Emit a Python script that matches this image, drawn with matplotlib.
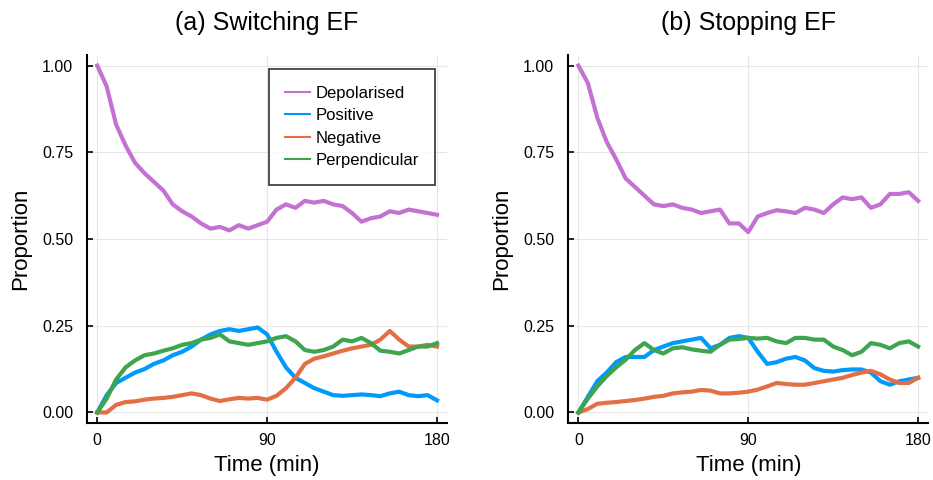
import numpy as np
import matplotlib
matplotlib.use("Agg")
import matplotlib.pyplot as plt

plt.rcParams['font.family'] = ['Liberation Sans', 'DejaVu Sans']

time = list(range(0, 181, 5))

# (a) Switching EF
depol_a = [1.00, 0.94, 0.83, 0.77, 0.72, 0.69, 0.665, 0.64, 0.60, 0.58, 0.565, 0.545, 0.53,
           0.535, 0.525, 0.54, 0.53, 0.54, 0.55, 0.585, 0.60, 0.59, 0.61, 0.605, 0.61, 0.60,
           0.595, 0.575, 0.55, 0.56, 0.565, 0.58, 0.575, 0.585, 0.58, 0.575, 0.57]
pos_a = [0.0, 0.05, 0.085, 0.10, 0.115, 0.125, 0.14, 0.15, 0.165, 0.175, 0.19, 0.21, 0.225,
         0.235, 0.24, 0.235, 0.24, 0.245, 0.225, 0.175, 0.13, 0.10, 0.085, 0.07, 0.06, 0.05,
         0.048, 0.05, 0.052, 0.05, 0.047, 0.055, 0.06, 0.05, 0.047, 0.05, 0.035]
neg_a = [0.0, 0.0, 0.022, 0.03, 0.032, 0.037, 0.04, 0.042, 0.045, 0.05, 0.055, 0.05, 0.04,
         0.033, 0.038, 0.042, 0.04, 0.042, 0.037, 0.048, 0.07, 0.10, 0.14, 0.155, 0.162, 0.17,
         0.178, 0.185, 0.19, 0.195, 0.21, 0.235, 0.21, 0.19, 0.19, 0.195, 0.19]
perp_a = [0.0, 0.04, 0.095, 0.13, 0.15, 0.165, 0.17, 0.178, 0.185, 0.195, 0.20, 0.21, 0.215,
          0.225, 0.205, 0.20, 0.195, 0.20, 0.205, 0.215, 0.22, 0.205, 0.18, 0.175, 0.18, 0.19,
          0.21, 0.205, 0.215, 0.20, 0.178, 0.175, 0.17, 0.18, 0.19, 0.19, 0.20]

# (b) Stopping EF
depol_b = [1.00, 0.95, 0.85, 0.78, 0.73, 0.675, 0.65, 0.625, 0.60, 0.595, 0.60, 0.59, 0.585,
           0.575, 0.58, 0.585, 0.545, 0.545, 0.52, 0.565, 0.575, 0.583, 0.58, 0.575, 0.59, 0.585,
           0.575, 0.60, 0.62, 0.615, 0.62, 0.59, 0.60, 0.63, 0.63, 0.635, 0.61]
pos_b = [0.0, 0.045, 0.09, 0.115, 0.145, 0.16, 0.16, 0.16, 0.18, 0.19, 0.20, 0.205, 0.21,
         0.215, 0.185, 0.195, 0.215, 0.22, 0.215, 0.175, 0.14, 0.145, 0.155, 0.16, 0.15, 0.128,
         0.12, 0.118, 0.122, 0.124, 0.124, 0.115, 0.09, 0.08, 0.09, 0.095, 0.10]
neg_b = [0.0, 0.01, 0.025, 0.028, 0.03, 0.033, 0.036, 0.04, 0.045, 0.048, 0.055, 0.058, 0.06,
         0.065, 0.063, 0.055, 0.055, 0.057, 0.06, 0.066, 0.075, 0.085, 0.082, 0.08, 0.08, 0.085,
         0.09, 0.095, 0.10, 0.108, 0.115, 0.12, 0.11, 0.095, 0.085, 0.085, 0.10]
perp_b = [0.0, 0.04, 0.075, 0.105, 0.13, 0.152, 0.18, 0.20, 0.18, 0.17, 0.185, 0.188, 0.182,
          0.178, 0.175, 0.195, 0.21, 0.212, 0.215, 0.213, 0.215, 0.205, 0.20, 0.215, 0.215, 0.21,
          0.21, 0.19, 0.18, 0.165, 0.175, 0.20, 0.195, 0.185, 0.20, 0.205, 0.19]

labels = ["Depolarised", "Positive", "Negative", "Perpendicular"]
colors = ["#C371D2", "#009AFA", "#E36F47", "#3EA44E"]
titles = ["(a) Switching EF", "(b) Stopping EF"]
panels = [[depol_a, pos_a, neg_a, perp_a], [depol_b, pos_b, neg_b, perp_b]]

fig = plt.figure(figsize=(9.33, 4.8), dpi=100)
axes = [fig.add_axes([0.0933, 0.119, 0.386, 0.766]),
        fig.add_axes([0.609, 0.119, 0.386, 0.766])]

for ax, series, title in zip(axes, panels, titles):
    for s, lab, c in zip(series, labels, colors):
        ax.plot(time, s, color=c, lw=3.0, label=lab, solid_joinstyle='round')
    ax.set_xlim(-5.4, 185.4)
    ax.set_ylim(-0.03, 1.03)
    ax.set_xticks([0, 90, 180])
    ax.set_yticks([0, 0.25, 0.5, 0.75, 1.0])
    ax.set_yticklabels(["0.00", "0.25", "0.50", "0.75", "1.00"])
    ax.grid(True, color='#e6e6e6', lw=0.8)
    ax.set_axisbelow(True)
    for side in ['top', 'right']:
        ax.spines[side].set_visible(False)
    for side in ['left', 'bottom']:
        ax.spines[side].set_linewidth(1.5)
    ax.tick_params(axis='y', direction='in', length=4, width=1.2, labelsize=11.5, pad=10)
    ax.tick_params(axis='x', direction='in', length=4, width=1.2, labelsize=11.5, pad=7)
    ax.set_title(title, fontsize=18, pad=18)
    ax.set_xlabel("Time (min)", fontsize=16, labelpad=5)
    ax.set_ylabel("Proportion", fontsize=16, labelpad=8)

leg = axes[0].legend(loc='upper right', bbox_to_anchor=(0.99, 0.985), fontsize=12,
                     frameon=True, fancybox=False, handlelength=1.5, borderpad=1.0,
                     labelspacing=0.45, handletextpad=0.3)
leg.get_frame().set_edgecolor('black')
leg.get_frame().set_linewidth(1.2)
for line in leg.get_lines():
    line.set_linewidth(1.5)

fig.savefig("out.png", dpi=100)
